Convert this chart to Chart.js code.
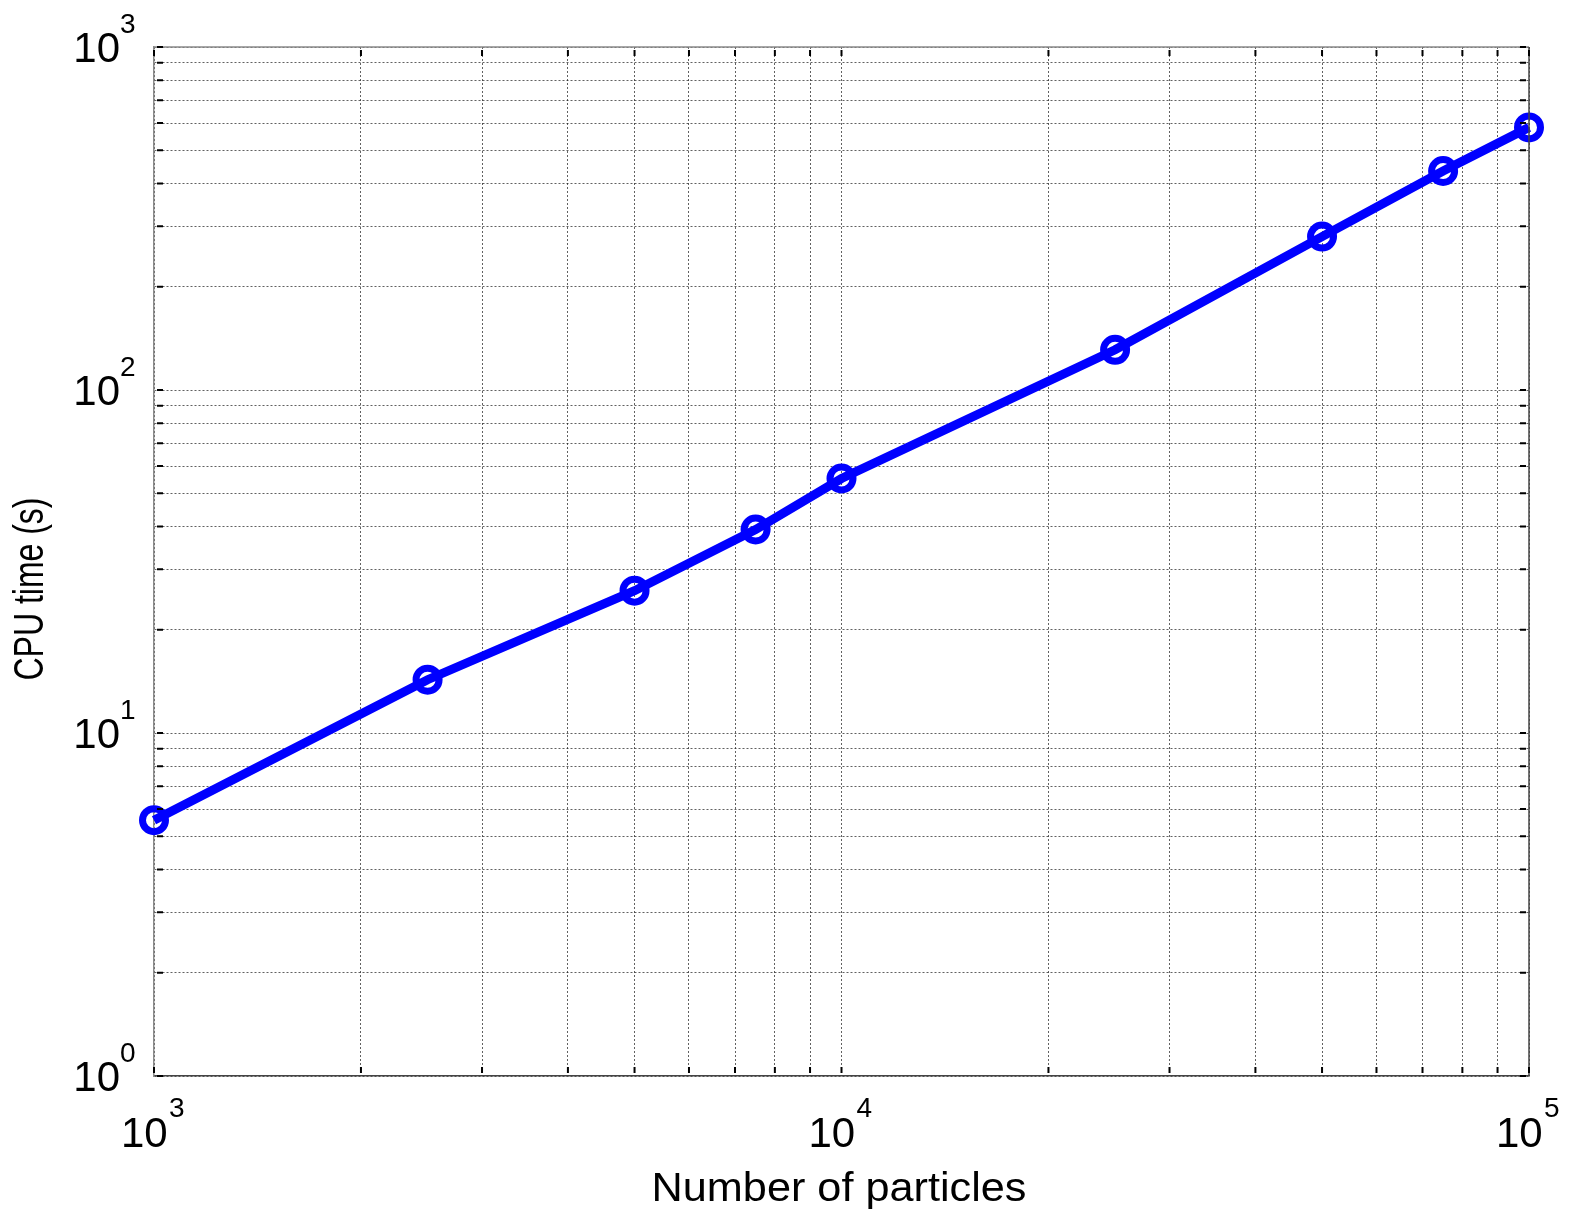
<!DOCTYPE html>
<html>
<head>
<meta charset="utf-8">
<script src="https://cdn.jsdelivr.net/npm/chart.js@4.4.1/dist/chart.umd.min.js"></script>
<style>
  html, body { margin: 0; padding: 0; background: #fff; }
  #wrap { width: 1573px; height: 1222px; }
</style>
</head>
<body>
<div id="wrap"><canvas id="c" width="1573" height="1222"></canvas></div>
<script>
const particles = [1000, 2500, 5000, 7500, 10000, 25000, 50000, 75000, 100000];
const cpuTime = [5.57, 14.3, 26.0, 39.2, 55.2, 131, 280, 435, 583];
const xDecades = [3, 4, 5];
const yDecades = [0, 1, 2, 3];
const xTitle = "Number of particles";
const yTitle = "CPU time (s)";

const FONT = '"Liberation Sans", Arial, Helvetica, sans-serif';

// every 1..9 x 10^n between min and max
function logTicks(minExp, maxExp) {
  const out = [];
  for (let e = minExp; e < maxExp; e++) {
    for (let m = 1; m < 10; m++) out.push({ value: m * Math.pow(10, e) });
  }
  out.push({ value: Math.pow(10, maxExp) });
  return out;
}

// draw text squeezed/stretched to a given width
function fitText(ctx, text, x, y, width) {
  const w = ctx.measureText(text).width;
  ctx.save();
  ctx.translate(x, y);
  ctx.scale(width / w, 1);
  ctx.textAlign = "center";
  ctx.fillText(text, 0, 0);
  ctx.restore();
}

const frame = {
  id: "frame",
  afterDraw(chart) {
    const { ctx, chartArea: a, scales } = chart;
    const xs = scales.x, ys = scales.y;
    ctx.save();
    // top + right border
    ctx.lineWidth = 1.5;
    ctx.strokeStyle = "#8a8a8a";
    ctx.beginPath(); ctx.moveTo(a.left, a.top); ctx.lineTo(a.right, a.top); ctx.stroke();
    ctx.strokeStyle = "#444";
    ctx.beginPath(); ctx.moveTo(a.right, a.top); ctx.lineTo(a.right, a.bottom); ctx.stroke();

    // small inward tick marks
    ctx.strokeStyle = "#000";
    ctx.lineWidth = 2;
    xs.ticks.forEach(t => {
      const px = xs.getPixelForValue(t.value);
      ctx.beginPath();
      ctx.moveTo(px, a.bottom - 9); ctx.lineTo(px, a.bottom - 3);
      ctx.moveTo(px, a.top + 3); ctx.lineTo(px, a.top + 9);
      ctx.stroke();
    });
    ys.ticks.forEach(t => {
      const py = ys.getPixelForValue(t.value);
      ctx.beginPath();
      ctx.moveTo(a.left + 3, py); ctx.lineTo(a.left + 9, py);
      ctx.moveTo(a.right - 9, py); ctx.lineTo(a.right - 3, py);
      ctx.stroke();
    });

    // tick labels with superscript exponent
    ctx.fillStyle = "#000";
    ctx.textBaseline = "alphabetic";
    xDecades.forEach(e => {
      const px = xs.getPixelForValue(Math.pow(10, e));
      ctx.textAlign = "left";
      ctx.font = "42px " + FONT;
      ctx.fillText("10", px - 33, a.bottom + 71);
      ctx.font = "28px " + FONT;
      ctx.fillText(String(e), px + 15, a.bottom + 41);
    });
    yDecades.forEach(e => {
      const py = ys.getPixelForValue(Math.pow(10, e));
      ctx.textAlign = "right";
      ctx.font = "42px " + FONT;
      ctx.fillText("10", 120, py + 15);
      ctx.textAlign = "left";
      ctx.font = "28px " + FONT;
      ctx.fillText(String(e), 120, py - 14);
    });

    // axis titles
    ctx.font = "41px " + FONT;
    fitText(ctx, xTitle, 839, 1201, 375);
    ctx.save();
    ctx.translate(43, 589);
    ctx.rotate(-Math.PI / 2);
    ctx.font = "42px " + FONT;
    fitText(ctx, yTitle, 0, 0, 183);
    ctx.restore();
    ctx.restore();
  }
};

const gridStyle = {
  color: "rgba(30,30,30,0.7)",
  lineWidth: 1,
  drawTicks: false
};

new Chart(document.getElementById("c"), {
  type: "line",
  data: {
    datasets: [{
      data: particles.map((p, i) => ({ x: p, y: cpuTime[i] })),
      borderColor: "#0000ff",
      borderWidth: 9,
      pointRadius: 11.5,
      pointBorderWidth: 7,
      pointBackgroundColor: "rgba(0,0,0,0)",
      pointBorderColor: "#0000ff",
      tension: 0,
      clip: false
    }]
  },
  options: {
    responsive: false,
    animation: false,
    layout: { padding: { top: 47, right: 44, left: 0, bottom: 0 } },
    plugins: { legend: { display: false }, tooltip: { enabled: false } },
    scales: {
      x: {
        type: "logarithmic",
        min: 1000, max: 100000,
        afterBuildTicks: s => { s.ticks = logTicks(3, 5); },
        afterFit: s => { s.height = 146; },
        ticks: { display: false },
        grid: { ...gridStyle },
        border: { display: true, color: "#444", width: 1.5, dash: [2, 2] }
      },
      y: {
        type: "logarithmic",
        min: 1, max: 1000,
        afterBuildTicks: s => { s.ticks = logTicks(0, 3); },
        afterFit: s => { s.width = 154; },
        ticks: { display: false },
        grid: { ...gridStyle },
        border: { display: true, color: "#8a8a8a", width: 1.5, dash: [2, 2] }
      }
    }
  },
  plugins: [frame]
});
</script>
</body>
</html>
